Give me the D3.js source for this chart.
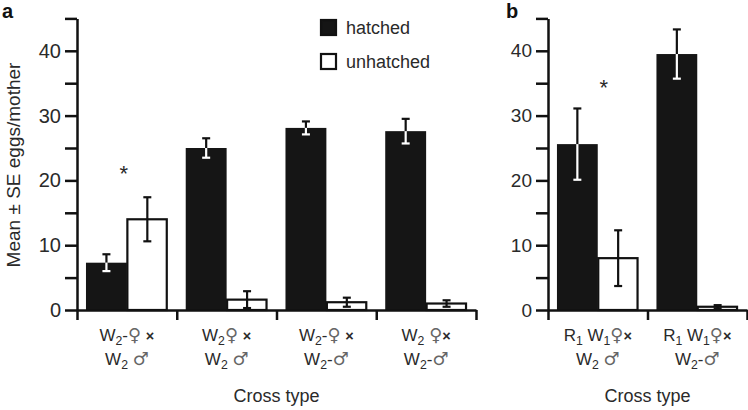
<!DOCTYPE html>
<html><head><meta charset="utf-8">
<script src="https://cdn.jsdelivr.net/npm/d3@7"></script>
<style>
body{margin:0;background:#fff}
svg text{font-family:"Liberation Sans",Arial,Helvetica,sans-serif;fill:#2a2a2a}
</style></head>
<body><svg id="c" width="748" height="410"></svg>
<script>
// ---------- data ----------
const seriesNames = ["hatched", "unhatched"];
// "_" marks a subscript character
const catsA_line1 = ["W_2-♀ ×", "W_2♀ ×", "W_2-♀ ×", "W_2 ♀×"];
const catsA_line2 = ["W_2 ♂", "W_2 ♂", "W_2-♂", "W_2-♂"];
const hatchedA = [7.3, 25.0, 28.1, 27.6];
const hatchedErrA = [1.3, 1.5, 1.0, 1.9];
const unhatchedA = [14.0, 1.6, 1.2, 1.0];
const unhatchedErrA = [3.4, 1.3, 0.7, 0.5];
const starsA = [{cat: 0, value: 21.3}];

const catsB_line1 = ["R_1 W_1♀×", "R_1 W_1♀×"];
const catsB_line2 = ["W_2 ♂", "W_2-♂"];
const hatchedB = [25.6, 39.5];
const hatchedErrB = [5.5, 3.8];
const unhatchedB = [8.0, 0.5];
const unhatchedErrB = [4.3, 0.25];
const starsB = [{cat: 0, value: 34.6}];

const yTickValues = [0, 5, 10, 15, 20, 25, 30, 35, 40, 45];
const yLabelValues = [0, 10, 20, 30, 40];
const yTitle = "Mean ± SE eggs/mother";
const xTitle = "Cross type";

// ---------- drawing ----------
const svg = d3.select("#c");
const y = d3.scaleLinear().domain([0, 45]).range([310, 18.4]);

function addRich(sel, str, size) {
  const parts = [];
  for (let i = 0; i < str.length; i++) {
    if (str[i] === "_") { parts.push({t: str[i + 1], sub: true}); i++; }
    else parts.push({t: str[i], sub: false});
  }
  let prevSub = false;
  parts.forEach(p => {
    const ts = sel.append("tspan").text(p.t);
    if (p.sub && !prevSub) ts.attr("dy", 4).attr("font-size", size * 0.72);
    else if (p.sub) ts.attr("font-size", size * 0.72);
    else if (!p.sub && prevSub) ts.attr("dy", -4);
    if (p.t === "♀" || p.t === "♂") ts.style("fill", "#666").attr("font-family", "DejaVu Sans").attr("font-size", size * 1.05);
    if (p.t === "×") ts.attr("font-weight", "bold").attr("font-size", size * 0.85);
    prevSub = p.sub;
  });
}

function panel(cfg) {
  const g = svg.append("g");
  const n = cfg.line1.length;
  const x = d3.scaleBand().domain(d3.range(n)).range([cfg.x0, cfg.x1]).paddingInner(0.18).paddingOuter(0.09);
  const xs = d3.scaleBand().domain(seriesNames).range([0, x.bandwidth()]).padding(0);
  const xb = d3.scaleLinear().domain([0, n]).range([cfg.x0, cfg.x1]);

  const rows = [];
  for (let i = 0; i < n; i++) {
    rows.push({i, s: "hatched", v: cfg.h[i], e: cfg.he[i]});
    rows.push({i, s: "unhatched", v: cfg.u[i], e: cfg.ue[i]});
  }
  g.selectAll("rect.bar").data(rows).join("rect")
    .attr("x", d => x(d.i) + xs(d.s) + (d.s === "unhatched" ? 0.5 : 0))
    .attr("width", d => xs.bandwidth() - (d.s === "unhatched" ? 1.5 : 0))
    .attr("y", d => y(d.v))
    .attr("height", d => y(0) - y(d.v))
    .attr("fill", d => d.s === "hatched" ? "#151515" : "#fff")
    .attr("stroke", d => d.s === "hatched" ? "none" : "#111")
    .attr("stroke-width", 2.2);

  // error bars
  const cap = 4;
  rows.forEach(d => {
    const cx = x(d.i) + xs(d.s) + xs.bandwidth() / 2;
    const lo = Math.max(0, d.v - d.e), hi = d.v + d.e;
    const inner = d.s === "hatched" ? "#fff" : "#111";
    g.append("line").attr("x1", cx).attr("x2", cx).attr("y1", y(d.v)).attr("y2", y(hi)).attr("stroke", "#111").attr("stroke-width", 2.2);
    g.append("line").attr("x1", cx - cap).attr("x2", cx + cap).attr("y1", y(hi)).attr("y2", y(hi)).attr("stroke", "#111").attr("stroke-width", 2.2);
    g.append("line").attr("x1", cx).attr("x2", cx).attr("y1", y(d.v)).attr("y2", y(lo)).attr("stroke", inner).attr("stroke-width", 2.2);
    g.append("line").attr("x1", cx - cap).attr("x2", cx + cap).attr("y1", y(lo)).attr("y2", y(lo)).attr("stroke", inner).attr("stroke-width", 2.2);
  });

  // stars
  g.selectAll("text.star").data(cfg.stars).join("text")
    .attr("x", d => x(d.cat) + x.bandwidth() / 2 + cfg.starDx)
    .attr("y", d => y(d.value) + 9)
    .attr("text-anchor", "middle").attr("font-size", 22).text("*");

  // y axis
  const ya = g.append("g").attr("transform", `translate(${cfg.x0},0)`)
    .call(d3.axisLeft(y).tickValues(yTickValues).tickSize(12).tickSizeOuter(0)
      .tickFormat(d => yLabelValues.includes(d) ? d : ""));
  ya.select(".domain").attr("stroke", "#111").attr("stroke-width", 2.5);
  ya.selectAll(".tick line").attr("stroke", "#111").attr("stroke-width", 2.5);
  ya.selectAll(".tick text").attr("font-size", cfg.tickFont).attr("x", -16).style("fill", "#2a2a2a").attr("font-family", null);

  // x axis (ticks at category boundaries)
  const xa = g.append("g").attr("transform", `translate(0,${y(0)})`)
    .call(d3.axisBottom(xb).tickValues(d3.range(n + 1)).tickSize(10).tickSizeOuter(0).tickFormat(""));
  xa.select(".domain").attr("stroke", "#111").attr("stroke-width", 2.5);
  xa.selectAll(".tick line").attr("stroke", "#111").attr("stroke-width", 2.5);

  // category labels
  for (let i = 0; i < n; i++) {
    const cx = x(i) + x.bandwidth() / 2;
    addRich(g.append("text").attr("x", cx).attr("y", 341).attr("text-anchor", "middle").attr("font-size", 17), cfg.line1[i], 17);
    addRich(g.append("text").attr("x", cx).attr("y", 365).attr("text-anchor", "middle").attr("font-size", 17), cfg.line2[i], 17);
  }
  g.append("text").attr("x", (cfg.x0 + cfg.x1) / 2).attr("y", 402).attr("text-anchor", "middle")
    .attr("font-size", 18).text(xTitle);
  g.append("text").attr("x", cfg.letterX).attr("y", 18).attr("font-size", 20).attr("font-weight", "bold")
    .style("fill", "#111").text(cfg.letter);
}

panel({x0: 77, x1: 476, line1: catsA_line1, line2: catsA_line2, h: hatchedA, he: hatchedErrA,
  u: unhatchedA, ue: unhatchedErrA, stars: starsA, starDx: -3, tickFont: 20, letter: "a", letterX: 2});
panel({x0: 548, x1: 747, line1: catsB_line1, line2: catsB_line2, h: hatchedB, he: hatchedErrB,
  u: unhatchedB, ue: unhatchedErrB, stars: starsB, starDx: 6, tickFont: 19, letter: "b", letterX: 506});

// y title
svg.append("text").attr("transform", "translate(20,165) rotate(-90)").attr("text-anchor", "middle")
  .attr("font-size", 19).text(yTitle);

// legend
const lg = svg.append("g").attr("transform", "translate(320,19)");
seriesNames.forEach((s, i) => {
  lg.append("rect").attr("x", 1).attr("y", i * 34 + 1).attr("width", 15).attr("height", 15)
    .attr("fill", s === "hatched" ? "#151515" : "#fff").attr("stroke", "#111").attr("stroke-width", 2.2);
  lg.append("text").attr("x", 26).attr("y", i * 34 + 15).attr("font-size", 18).text(s);
});
</script></body></html>
